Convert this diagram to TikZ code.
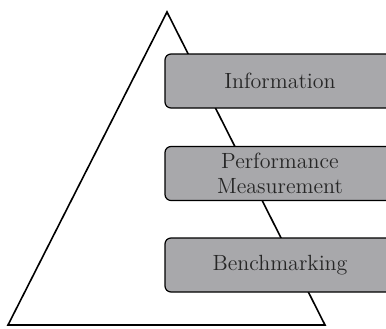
\documentclass[tikz,border=0pt]{standalone}
\usepackage{amsmath}
\usepackage{tikz}

\begin{document}
\begin{tikzpicture}[x=0.5pt,y=-0.5pt,
		level/.style={draw,line width=0.6pt,fill=boxgray,rounded corners=3pt,minimum width=115pt,minimum height=27pt,align=center,font=\fontsize{11}{12.5}\selectfont,text=black!85}]
		\definecolor{boxgray}{RGB}{168,168,171}
		\clip (0,0) rectangle (386,328);
		\coordinate (apex) at (167,12);
		\coordinate (baseL) at (8,325);
		\coordinate (baseR) at (325,325);
		\draw[line width=0.8pt,line join=miter] (baseL) -- (apex) -- (baseR) -- cycle;
		\node [level] (info) at (280,81) {Information};
		\node [level] (perf) at (280,173.5) {Performance\\Measurement};
		\node [level] (bench) at (280,265) {Benchmarking};
		\end{tikzpicture}
\end{document}
